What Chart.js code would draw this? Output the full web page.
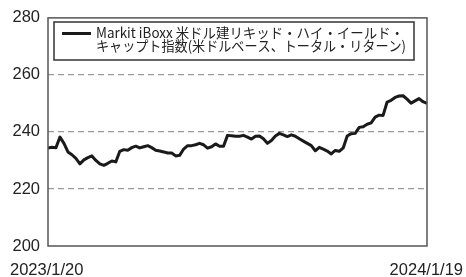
<!DOCTYPE html>
<html>
<head>
<meta charset="utf-8">
<script src="https://cdn.jsdelivr.net/npm/chart.js@4/dist/chart.umd.min.js"></script>
<style>
  html, body { margin: 0; padding: 0; background: #fff; }
  #wrap { width: 466px; height: 277px; position: relative; }
</style>
</head>
<body>
<div id="wrap"><canvas id="chart"></canvas></div>
<script>
// index values (about one point every 4px)
const indexValues = [
  234.4, 234.6, 234.5, 238.2, 236.0, 233.0, 232.0, 230.7, 228.8, 230.2,
  231.0, 231.6, 230.0, 228.8, 228.3, 229.0, 229.8, 229.5, 233.2, 233.8,
  233.6, 234.5, 235.0, 234.4, 234.8, 235.2, 234.5, 233.6, 233.3, 233.0,
  232.6, 232.6, 231.6, 231.8, 234.0, 235.2, 235.2, 235.5, 236.0, 235.5,
  234.3, 234.8, 235.8, 235.0, 235.0, 238.8, 238.7, 238.5, 238.5, 238.8,
  238.2, 237.5, 238.5, 238.6, 237.6, 236.0, 237.0, 238.6, 239.5, 239.0,
  238.4, 239.0, 238.5, 237.6, 236.8, 236.0, 235.2, 233.4, 234.6, 234.0,
  233.3, 232.3, 233.5, 233.2, 234.4, 238.6, 239.4, 239.5, 241.6, 241.8,
  242.7, 243.2, 245.2, 245.9, 245.8, 250.5, 251.1, 252.1, 252.6, 252.7,
  251.5, 250.1, 250.9, 251.7, 250.6, 250.0
];
const pointLabels = indexValues.map((v, i) => String(i));
const xTickLabels = ["2023/1/20", "2024/1/19"];
const yTicks = [200, 220, 240, 260, 280];
const legendLines = [
  "Markit iBoxx 米ドル建リキッド・ハイ・イールド・",
  "キャップト指数(米ドルベース、トータル・リターン)"
];

const numFont = '16.5px "Liberation Sans", Arial, sans-serif';
const jpFont = '14px "Noto Sans CJK JP", sans-serif';

const frameAndLabels = {
  id: "frameAndLabels",
  afterDraw(chart) {
    const { ctx, chartArea: a, width } = chart;
    ctx.save();
    // plot frame
    ctx.strokeStyle = "#555";
    ctx.lineWidth = 1.5;
    ctx.strokeRect(a.left, a.top, a.right - a.left, a.bottom - a.top);

    // legend box
    ctx.fillStyle = "#fff";
    ctx.fillRect(54, 22, 360, 38);
    ctx.strokeStyle = "#333";
    ctx.lineWidth = 1.5;
    ctx.strokeRect(54, 22, 360, 38);
    ctx.strokeStyle = "#1a1a1a";
    ctx.lineWidth = 3;
    ctx.beginPath();
    ctx.moveTo(62, 33.5);
    ctx.lineTo(91, 33.5);
    ctx.stroke();
    ctx.fillStyle = "#222";
    ctx.font = jpFont;
    ctx.textBaseline = "middle";
    ctx.textAlign = "left";
    ctx.fillText(legendLines[0], 96, 33, 308);
    ctx.fillText(legendLines[1], 96, 46, 310);

    // first / last dates
    ctx.font = numFont;
    ctx.textBaseline = "middle";
    ctx.textAlign = "left";
    ctx.fillText(xTickLabels[0], 10, 270);
    ctx.textAlign = "right";
    ctx.fillText(xTickLabels[1], width - 3, 270);
    ctx.restore();
  }
};

new Chart(document.getElementById("chart"), {
  type: "line",
  data: {
    labels: pointLabels,
    datasets: [{
      label: legendLines.join(""),
      data: indexValues,
      borderColor: "#1a1a1a",
      borderWidth: 3,
      pointRadius: 0,
      tension: 0,
      borderJoinStyle: "round",
      fill: false
    }]
  },
  options: {
    responsive: true,
    maintainAspectRatio: false,
    animation: false,
    layout: { padding: { left: 0, top: 15, right: 39, bottom: 31 } },
    plugins: { legend: { display: false }, tooltip: { enabled: false } },
    scales: {
      x: { display: false, offset: false },
      y: {
        min: 200,
        max: 280,
        afterFit: (scale) => { scale.width = 48; },
        afterBuildTicks: (scale) => { scale.ticks = yTicks.map(v => ({ value: v })); },
        border: { display: false, dash: [6, 4] },
        grid: {
          drawTicks: false,
          color: (c) => (c.tick && (c.tick.value === 200 || c.tick.value === 280)) ? "rgba(0,0,0,0)" : "#9a9a9a",
          lineWidth: 1.2
        },
        ticks: {
          padding: 8,
          color: "#222",
          font: { family: '"Liberation Sans", Arial, sans-serif', size: 16.5 }
        }
      }
    }
  },
  plugins: [frameAndLabels]
});
</script>
</body>
</html>
